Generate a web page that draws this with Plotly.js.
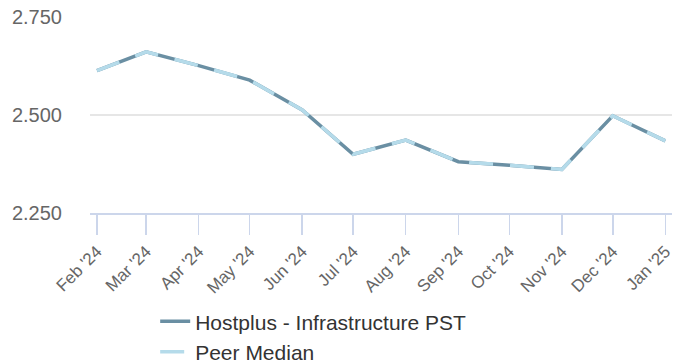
<!DOCTYPE html>
<html><head><meta charset="utf-8">
<script src="https://cdn.plot.ly/plotly-3.0.1.min.js"></script>
<style>html,body{margin:0;padding:0;background:#fff}#chart{width:688px;height:363px}</style>
</head><body><div id="chart"></div>
<script>
const months = ["2024-02-01","2024-03-01","2024-04-01","2024-05-01","2024-06-01","2024-07-01","2024-08-01","2024-09-01","2024-10-01","2024-11-01","2024-12-01","2025-01-01"];
const hostplus = [2.613,2.661,2.626,2.589,2.513,2.400,2.436,2.381,2.372,2.361,2.498,2.434];
const peerMedian = [2.613,2.661,2.626,2.589,2.513,2.400,2.436,2.381,2.372,2.361,2.498,2.434];
const yTicks = [2.25,2.5,2.75];

const traces = [
  {x: months, y: hostplus, name: "Hostplus - Infrastructure PST", type: "scatter", mode: "lines",
   line: {color: "#6a8fa3", width: 3.5}},
  {x: months, y: peerMedian, name: "Peer Median", type: "scatter", mode: "lines",
   line: {color: "#b5dbea", width: 3.5, dash: "24px,17px"}}
];
const layout = {
  width: 688, height: 363,
  margin: {l: 90, r: 16, t: 17, b: 150, autoexpand: false},
  paper_bgcolor: "#fff", plot_bgcolor: "#fff",
  font: {family: "Arial, 'Liberation Sans', sans-serif", color: "#666"},
  showlegend: true,
  legend: {orientation: "v", x: 0.112, xanchor: "left", y: -0.45, yanchor: "top",
           font: {size: 21, color: "#333"}, tracegroupgap: 0},
  xaxis: {type: "date", range: ["2024-01-27 22:00", "2025-01-04 22:00"],
          tickvals: months, tickformat: "%b '%y", tickangle: -45,
          ticks: "outside", ticklen: 20, tickcolor: "#ccd6eb", tickwidth: 1.5,
          showline: true, linecolor: "#ccd6eb", linewidth: 2,
          showgrid: false, zeroline: false, tickfont: {size: 17, color: "#666"}},
  yaxis: {range: [2.25, 2.75], tickvals: yTicks, tickformat: ".3f",
          showgrid: true, gridcolor: "#e6e6e6", gridwidth: 1.5, zeroline: false,
          showline: false, ticks: "", tickfont: {size: 20, color: "#666"}, ticklabelstandoff: 27}
};
Plotly.newPlot("chart", traces, layout, {displayModeBar: false, staticPlot: true});
</script></body></html>
